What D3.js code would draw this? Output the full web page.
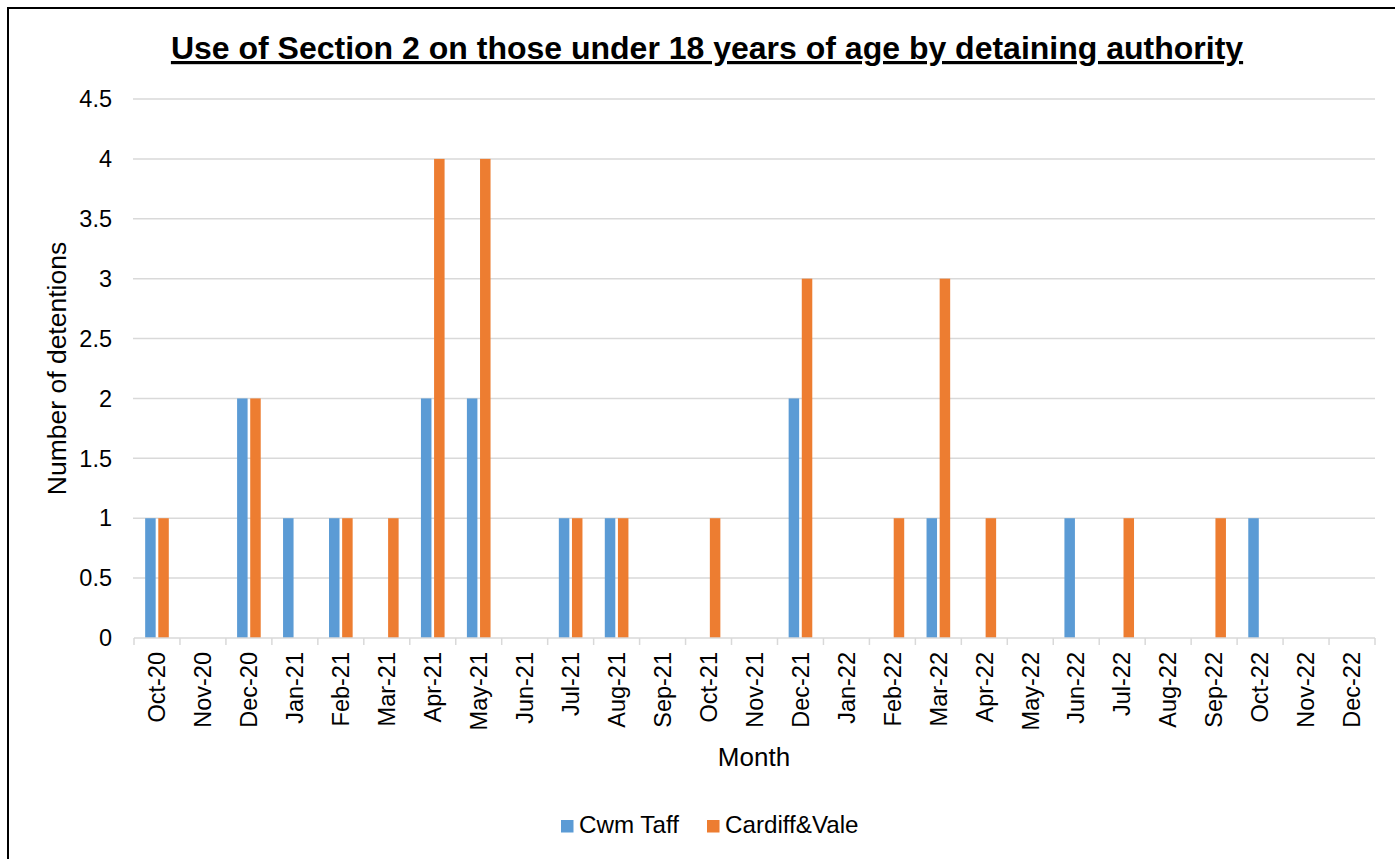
<!DOCTYPE html>
<html><head><meta charset="utf-8">
<script src="https://cdn.jsdelivr.net/npm/d3@7"></script>
<style>body{margin:0;background:#fff}svg{display:block;font-family:"Liberation Sans",Arial,sans-serif}</style>
</head><body>
<script>
const months = ["Oct-20","Nov-20","Dec-20","Jan-21","Feb-21","Mar-21","Apr-21","May-21","Jun-21","Jul-21","Aug-21","Sep-21","Oct-21","Nov-21","Dec-21","Jan-22","Feb-22","Mar-22","Apr-22","May-22","Jun-22","Jul-22","Aug-22","Sep-22","Oct-22","Nov-22","Dec-22"];
const cwmTaff =  [1,0,2,1,1,0,2,2,0,1,1,0,0,0,2,0,0,1,0,0,1,0,0,0,1,0,0];
const cardiffVale = [1,0,2,0,1,1,4,4,0,1,1,0,1,0,3,0,1,3,1,0,0,1,0,1,0,0,0];
const seriesNames = ["Cwm Taff","Cardiff&Vale"];
const seriesColors = ["#5B9BD5","#ED7D31"];
const yTicks = [0,0.5,1,1.5,2,2.5,3,3.5,4,4.5];

(function(){
const W=1395,H=859;
const svg=d3.select("body").append("svg").attr("width",W).attr("height",H);
svg.append("rect").attr("x",8).attr("y",8).attr("width",W).attr("height",H).attr("fill","none").attr("stroke","#000").attr("stroke-width",2);

const pL=134,pR=1375,pT=99,pB=638;
const x=d3.scaleBand().domain(months).range([pL,pR]).paddingInner(0).paddingOuter(0);
const y=d3.scaleLinear().domain([0,4.5]).range([pB,pT]);
const x1=d3.scaleBand().domain(seriesNames).range([0,x.bandwidth()]).paddingInner(0.2).paddingOuter(0.85);

// gridlines
svg.append("g").selectAll("line").data(yTicks.filter(d=>d>0)).join("line")
  .attr("x1",pL-1).attr("x2",pR).attr("y1",d=>y(d)).attr("y2",d=>y(d))
  .attr("stroke","#D9D9D9").attr("stroke-width",1.5);

// y labels
svg.append("g").selectAll("text").data(yTicks).join("text")
  .attr("x",112).attr("y",d=>y(d)).attr("dy","0.35em").attr("text-anchor","end")
  .attr("font-size",23.5).attr("fill","#000").text(d=>d);

// bars
const data=months.map((m,i)=>({m,vals:[cwmTaff[i],cardiffVale[i]]}));
const g=svg.append("g");
data.forEach(d=>{
  d.vals.forEach((v,k)=>{
    if(v>0) g.append("rect").attr("x",x(d.m)+x1(seriesNames[k])).attr("width",x1.bandwidth())
      .attr("y",y(v)).attr("height",y(0)-y(v)).attr("fill",seriesColors[k]);
  });
});

// x axis
const xa=svg.append("g").attr("transform",`translate(0,${pB})`);
xa.append("line").attr("x1",pL).attr("x2",pR).attr("stroke","#D9D9D9").attr("stroke-width",1.5);
xa.selectAll("line.t").data(d3.range(months.length+1)).join("line").attr("class","t")
  .attr("x1",i=>pL+i*x.step()).attr("x2",i=>pL+i*x.step()).attr("y1",0).attr("y2",7)
  .attr("stroke","#D9D9D9").attr("stroke-width",1.5);
xa.selectAll("text").data(months).join("text")
  .attr("transform",d=>`translate(${x(d)+x.bandwidth()/2},14) rotate(-90)`)
  .attr("text-anchor","end").attr("dy","0.35em").attr("font-size",23.5).attr("fill","#000").text(d=>d);

// titles
svg.append("text").attr("x",707).attr("y",59).attr("text-anchor","middle").attr("font-size",32)
  .attr("font-weight","bold").attr("text-decoration","underline").text("Use of Section 2 on those under 18 years of age by detaining authority");
svg.append("text").attr("transform","translate(66,368.5) rotate(-90)").attr("text-anchor","middle")
  .attr("font-size",26.5).text("Number of detentions");
svg.append("text").attr("x",754).attr("y",766).attr("text-anchor","middle").attr("font-size",26).text("Month");

// legend
const legX=[561,707];
seriesNames.forEach((n,k)=>{
  svg.append("rect").attr("x",legX[k]).attr("y",820).attr("width",12.5).attr("height",12.5).attr("fill",seriesColors[k]);
  svg.append("text").attr("x",legX[k]+18).attr("y",833).attr("font-size",24.2).text(n);
});
})();
</script>
</body></html>
